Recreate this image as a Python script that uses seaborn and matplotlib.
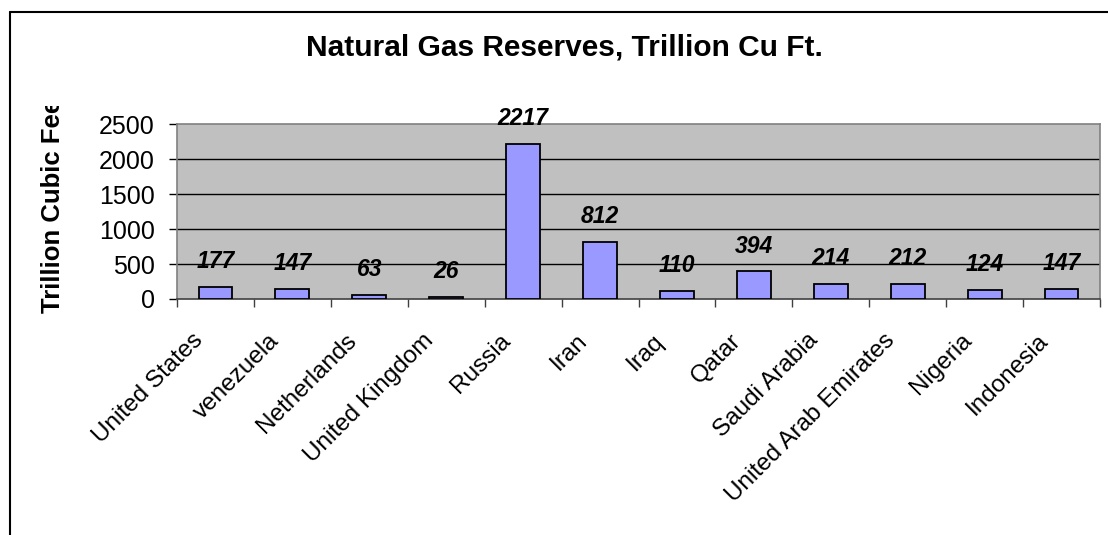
import matplotlib
matplotlib.use("Agg")
import matplotlib.pyplot as plt
from matplotlib.lines import Line2D
from matplotlib.transforms import ScaledTranslation, Bbox
import seaborn as sns
import pandas as pd

countries = ["United States", "venezuela", "Netherlands", "United Kingdom", "Russia",
             "Iran", "Iraq", "Qatar", "Saudi Arabia", "United Arab Emirates",
             "Nigeria", "Indonesia"]
reserves = [177, 147, 63, 26, 2217, 812, 110, 394, 214, 212, 124, 147]
y_ticks = [0, 500, 1000, 1500, 2000, 2500]

title = "Natural Gas Reserves, Trillion Cu Ft."
y_label = "Trillion Cubic Feet"

sns.set_style("white")
plt.rcParams["font.family"] = ["Liberation Sans", "DejaVu Sans"]
plt.rcParams["text.color"] = "black"
plt.rcParams["xtick.color"] = "black"
plt.rcParams["ytick.color"] = "black"
plt.rcParams["axes.labelcolor"] = "black"

W, H = 1108, 535
fig = plt.figure(figsize=(W / 100, H / 100), dpi=100)
fig.patch.set_facecolor("white")

# plot area in pixel coordinates
left, top, right, bottom = 177, 124, 1100, 299
ax = fig.add_axes([left / W, 1 - bottom / H, (right - left) / W, (bottom - top) / H])
ax.set_facecolor("#C0C0C0")

df = pd.DataFrame({"country": countries, "reserves": reserves})
sns.barplot(data=df, x="country", y="reserves", color="#9999FF", saturation=1,
            edgecolor="black", linewidth=1.3, width=0.44, ax=ax, zorder=3)

ax.set_ylim(0, 2500)
ax.set_xlim(-0.5, len(countries) - 0.5)
ax.set_yticks(y_ticks)
ax.set_yticklabels([str(t) for t in y_ticks], fontsize=18)
for t in y_ticks[1:-1]:
    ax.axhline(t, color="black", linewidth=1.0, zorder=1)

for s in ax.spines.values():
    s.set_color("#808080")
    s.set_linewidth(1.2)
ax.spines["bottom"].set_color("#404040")

ax.tick_params(axis="y", direction="out", length=6, width=1, color="black", pad=10, left=True)
ax.set_xticks(range(len(countries)))
ax.set_xticklabels(countries, fontsize=17.5, rotation=45, ha="right", va="top",
                   rotation_mode="anchor")
ax.tick_params(axis="x", which="major", length=0, pad=22)
ax.set_xticks([i - 0.5 for i in range(len(countries) + 1)], minor=True)
ax.tick_params(axis="x", which="minor", direction="out", length=6, width=1, color="#404040", bottom=True)
for lbl in ax.get_xticklabels():
    lbl.set_transform(lbl.get_transform() + ScaledTranslation(-0.24, 0, fig.dpi_scale_trans))

ax.set_xlabel("")
ax.set_ylabel("")

for i, v in enumerate(reserves):
    ax.annotate(str(v), (i, v), xytext=(0, 10), textcoords="offset points",
                ha="center", va="bottom", fontsize=16.5, fontweight="bold",
                fontstyle="italic", zorder=4)

fig.text(564 / W, 1 - 48 / H, title, ha="center", va="center", fontsize=21.5, fontweight="bold")

# value-axis title, cut off at the top of its box
ylab = fig.text(53 / W, 1 - 313 / H, y_label, rotation=90, ha="center", va="bottom",
                fontsize=18.5, fontweight="bold")
ylab.set_clip_box(Bbox([[0, 0], [W, H - 106]]))
ylab.set_clip_on(True)

# chart area frame
fig.add_artist(Line2D([10 / W, 10 / W], [0, 1 - 12 / H], transform=fig.transFigure,
                      color="black", linewidth=1.5))
fig.add_artist(Line2D([10 / W, 1], [1 - 12 / H, 1 - 12 / H], transform=fig.transFigure,
                      color="black", linewidth=1.5))

fig.savefig("out.png", dpi=100)
